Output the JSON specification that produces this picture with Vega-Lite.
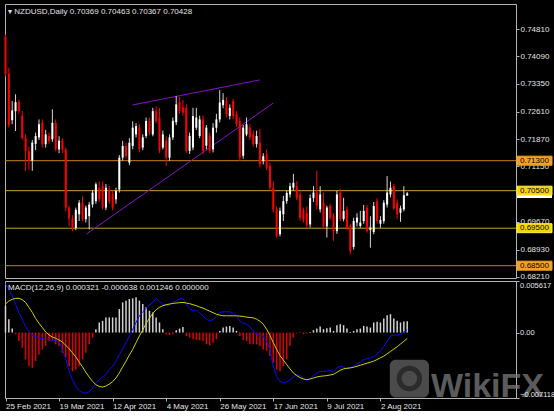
{
"$schema": "https://vega.github.io/schema/vega-lite/v6.json",
"background": "#000000",
"padding": {"left": 3, "top": 3, "right": 0, "bottom": 0},
"spacing": 3,
"bounds": "flush",
"config": {
  "view": {"stroke": "#b4b4b4", "strokeWidth": 1},
  "font": "Liberation Sans",
  "axis": {"labelFont": "Liberation Sans", "labelFontSize": 8, "labelColor": "#e4e4e4", "tickColor": "#b4b4b4", "tickSize": 3, "domain": false, "grid": false, "title": null, "labelPadding": 1, "labelOverlap": false}
},
"datasets": {
  "bars": [
{"i":0,"o":0.7460,"h":0.7466,"l":0.7355,"c":0.7362,"m":0.00531,"s":0.00311,"hist":0.00293},
{"i":1,"o":0.7362,"h":0.7378,"l":0.7218,"c":0.7225,"m":0.00468,"s":0.00344,"hist":0.00146},
{"i":2,"o":0.7238,"h":0.7289,"l":0.7227,"c":0.7264,"m":0.00403,"s":0.00362,"hist":0.00044},
{"i":3,"o":0.7262,"h":0.7307,"l":0.7209,"c":0.7286,"m":0.00310,"s":0.00373,"hist":-0.00018},
{"i":4,"o":0.7286,"h":0.7292,"l":0.7255,"c":0.7262,"m":0.00220,"s":0.00373,"hist":-0.00092},
{"i":5,"o":0.7249,"h":0.7262,"l":0.7185,"c":0.7191,"m":0.00143,"s":0.00359,"hist":-0.00165},
{"i":6,"o":0.7191,"h":0.7200,"l":0.7102,"c":0.7155,"m":0.00066,"s":0.00329,"hist":-0.00293},
{"i":7,"o":0.7155,"h":0.7168,"l":0.7105,"c":0.7130,"m":0.00015,"s":0.00275,"hist":-0.00366},
{"i":8,"o":0.7130,"h":0.7185,"l":0.7103,"c":0.7178,"m":-0.00029,"s":0.00220,"hist":-0.00384},
{"i":9,"o":0.7175,"h":0.7205,"l":0.7158,"c":0.7196,"m":-0.00044,"s":0.00154,"hist":-0.00311},
{"i":10,"o":0.7192,"h":0.7240,"l":0.7185,"c":0.7227,"m":-0.00055,"s":0.00102,"hist":-0.00238},
{"i":11,"o":0.7231,"h":0.7240,"l":0.7165,"c":0.7174,"m":-0.00066,"s":0.00055,"hist":-0.00183},
{"i":12,"o":0.7174,"h":0.7212,"l":0.7165,"c":0.7200,"m":-0.00073,"s":0.00007,"hist":-0.00146},
{"i":13,"o":0.7196,"h":0.7205,"l":0.7175,"c":0.7182,"m":-0.00077,"s":-0.00026,"hist":-0.00092},
{"i":14,"o":0.7187,"h":0.7267,"l":0.7180,"c":0.7231,"m":-0.00081,"s":-0.00048,"hist":-0.00092},
{"i":15,"o":0.7231,"h":0.7240,"l":0.7155,"c":0.7160,"m":-0.00088,"s":-0.00062,"hist":-0.00128},
{"i":16,"o":0.7160,"h":0.7195,"l":0.7150,"c":0.7183,"m":-0.00102,"s":-0.00081,"hist":-0.00146},
{"i":17,"o":0.7183,"h":0.7190,"l":0.7150,"c":0.7160,"m":-0.00183,"s":-0.00102,"hist":-0.00220},
{"i":18,"o":0.7160,"h":0.7165,"l":0.6995,"c":0.7005,"m":-0.00285,"s":-0.00139,"hist":-0.00275},
{"i":19,"o":0.7005,"h":0.7010,"l":0.6956,"c":0.6976,"m":-0.00421,"s":-0.00176,"hist":-0.00366},
{"i":20,"o":0.6976,"h":0.6985,"l":0.6942,"c":0.6951,"m":-0.00512,"s":-0.00220,"hist":-0.00421},
{"i":21,"o":0.6951,"h":0.7005,"l":0.6945,"c":0.6999,"m":-0.00586,"s":-0.00264,"hist":-0.00403},
{"i":22,"o":0.6987,"h":0.7025,"l":0.6969,"c":0.7018,"m":-0.00630,"s":-0.00322,"hist":-0.00366},
{"i":23,"o":0.7018,"h":0.7035,"l":0.6968,"c":0.6974,"m":-0.00651,"s":-0.00373,"hist":-0.00293},
{"i":24,"o":0.6974,"h":0.7010,"l":0.6965,"c":0.7005,"m":-0.00659,"s":-0.00432,"hist":-0.00220},
{"i":25,"o":0.6982,"h":0.7020,"l":0.6947,"c":0.7013,"m":-0.00644,"s":-0.00483,"hist":-0.00128},
{"i":26,"o":0.7013,"h":0.7052,"l":0.7005,"c":0.7045,"m":-0.00604,"s":-0.00531,"hist":-0.00055},
{"i":27,"o":0.7022,"h":0.7072,"l":0.7015,"c":0.7067,"m":-0.00549,"s":-0.00567,"hist":0.00037},
{"i":28,"o":0.7058,"h":0.7075,"l":0.7020,"c":0.7027,"m":-0.00512,"s":-0.00586,"hist":0.00110},
{"i":29,"o":0.7063,"h":0.7075,"l":0.7000,"c":0.7005,"m":-0.00483,"s":-0.00593,"hist":0.00128},
{"i":30,"o":0.7005,"h":0.7068,"l":0.6998,"c":0.7058,"m":-0.00458,"s":-0.00582,"hist":0.00165},
{"i":31,"o":0.7053,"h":0.7063,"l":0.7015,"c":0.7022,"m":-0.00403,"s":-0.00560,"hist":0.00165},
{"i":32,"o":0.7040,"h":0.7050,"l":0.6998,"c":0.7005,"m":-0.00366,"s":-0.00534,"hist":0.00165},
{"i":33,"o":0.7027,"h":0.7058,"l":0.7015,"c":0.7049,"m":-0.00311,"s":-0.00494,"hist":0.00165},
{"i":34,"o":0.7053,"h":0.7145,"l":0.7045,"c":0.7138,"m":-0.00238,"s":-0.00439,"hist":0.00256},
{"i":35,"o":0.7138,"h":0.7183,"l":0.7130,"c":0.7169,"m":-0.00176,"s":-0.00373,"hist":0.00329},
{"i":36,"o":0.7169,"h":0.7178,"l":0.7135,"c":0.7142,"m":-0.00110,"s":-0.00311,"hist":0.00348},
{"i":37,"o":0.7125,"h":0.7190,"l":0.7118,"c":0.7178,"m":-0.00037,"s":-0.00245,"hist":0.00366},
{"i":38,"o":0.7169,"h":0.7235,"l":0.7160,"c":0.7218,"m":0.00037,"s":-0.00183,"hist":0.00373},
{"i":39,"o":0.7200,"h":0.7230,"l":0.7192,"c":0.7222,"m":0.00110,"s":-0.00110,"hist":0.00384},
{"i":40,"o":0.7218,"h":0.7228,"l":0.7152,"c":0.7160,"m":0.00183,"s":-0.00037,"hist":0.00348},
{"i":41,"o":0.7165,"h":0.7200,"l":0.7158,"c":0.7192,"m":0.00227,"s":0.00029,"hist":0.00311},
{"i":42,"o":0.7196,"h":0.7245,"l":0.7190,"c":0.7236,"m":0.00264,"s":0.00099,"hist":0.00275},
{"i":43,"o":0.7236,"h":0.7245,"l":0.7198,"c":0.7205,"m":0.00300,"s":0.00157,"hist":0.00238},
{"i":44,"o":0.7200,"h":0.7271,"l":0.7195,"c":0.7262,"m":0.00329,"s":0.00209,"hist":0.00220},
{"i":45,"o":0.7262,"h":0.7275,"l":0.7230,"c":0.7236,"m":0.00373,"s":0.00249,"hist":0.00165},
{"i":46,"o":0.7245,"h":0.7271,"l":0.7150,"c":0.7158,"m":0.00337,"s":0.00275,"hist":0.00110},
{"i":47,"o":0.7165,"h":0.7210,"l":0.7160,"c":0.7200,"m":0.00307,"s":0.00293,"hist":0.00037},
{"i":48,"o":0.7183,"h":0.7195,"l":0.7116,"c":0.7138,"m":0.00293,"s":0.00304,"hist":-0.00018},
{"i":49,"o":0.7138,"h":0.7200,"l":0.7130,"c":0.7192,"m":0.00300,"s":0.00311,"hist":-0.00026},
{"i":50,"o":0.7192,"h":0.7245,"l":0.7185,"c":0.7236,"m":0.00329,"s":0.00318,"hist":-0.00018},
{"i":51,"o":0.7232,"h":0.7302,"l":0.7225,"c":0.7280,"m":0.00348,"s":0.00322,"hist":0.00026},
{"i":52,"o":0.7285,"h":0.7300,"l":0.7255,"c":0.7262,"m":0.00366,"s":0.00326,"hist":0.00044},
{"i":53,"o":0.7272,"h":0.7292,"l":0.7250,"c":0.7258,"m":0.00373,"s":0.00329,"hist":0.00062},
{"i":54,"o":0.7271,"h":0.7280,"l":0.7150,"c":0.7156,"m":0.00311,"s":0.00322,"hist":-0.00037},
{"i":55,"o":0.7156,"h":0.7205,"l":0.7148,"c":0.7196,"m":0.00264,"s":0.00315,"hist":-0.00055},
{"i":56,"o":0.7165,"h":0.7271,"l":0.7158,"c":0.7249,"m":0.00238,"s":0.00304,"hist":-0.00073},
{"i":57,"o":0.7218,"h":0.7271,"l":0.7212,"c":0.7245,"m":0.00249,"s":0.00293,"hist":-0.00081},
{"i":58,"o":0.7196,"h":0.7250,"l":0.7190,"c":0.7240,"m":0.00212,"s":0.00278,"hist":-0.00084},
{"i":59,"o":0.7240,"h":0.7250,"l":0.7148,"c":0.7156,"m":0.00183,"s":0.00267,"hist":-0.00092},
{"i":60,"o":0.7170,"h":0.7225,"l":0.7160,"c":0.7218,"m":0.00146,"s":0.00249,"hist":-0.00128},
{"i":61,"o":0.7196,"h":0.7205,"l":0.7150,"c":0.7156,"m":0.00128,"s":0.00234,"hist":-0.00139},
{"i":62,"o":0.7160,"h":0.7230,"l":0.7152,"c":0.7218,"m":0.00139,"s":0.00216,"hist":-0.00110},
{"i":63,"o":0.7218,"h":0.7255,"l":0.7205,"c":0.7240,"m":0.00183,"s":0.00201,"hist":-0.00073},
{"i":64,"o":0.7240,"h":0.7318,"l":0.7232,"c":0.7285,"m":0.00220,"s":0.00190,"hist":0.00018},
{"i":65,"o":0.7278,"h":0.7310,"l":0.7270,"c":0.7292,"m":0.00227,"s":0.00183,"hist":0.00055},
{"i":66,"o":0.7289,"h":0.7300,"l":0.7245,"c":0.7254,"m":0.00227,"s":0.00183,"hist":0.00066},
{"i":67,"o":0.7249,"h":0.7280,"l":0.7240,"c":0.7271,"m":0.00227,"s":0.00183,"hist":0.00073},
{"i":68,"o":0.7289,"h":0.7295,"l":0.7240,"c":0.7249,"m":0.00212,"s":0.00183,"hist":0.00055},
{"i":69,"o":0.7254,"h":0.7262,"l":0.7220,"c":0.7227,"m":0.00183,"s":0.00183,"hist":0.00018},
{"i":70,"o":0.7236,"h":0.7245,"l":0.7129,"c":0.7138,"m":0.00128,"s":0.00179,"hist":-0.00037},
{"i":71,"o":0.7143,"h":0.7225,"l":0.7135,"c":0.7218,"m":0.00102,"s":0.00176,"hist":-0.00081},
{"i":72,"o":0.7200,"h":0.7245,"l":0.7195,"c":0.7227,"m":0.00092,"s":0.00168,"hist":-0.00092},
{"i":73,"o":0.7218,"h":0.7228,"l":0.7185,"c":0.7192,"m":0.00066,"s":0.00165,"hist":-0.00128},
{"i":74,"o":0.7200,"h":0.7210,"l":0.7168,"c":0.7174,"m":0.00018,"s":0.00161,"hist":-0.00128},
{"i":75,"o":0.7174,"h":0.7210,"l":0.7165,"c":0.7196,"m":-0.00018,"s":0.00146,"hist":-0.00128},
{"i":76,"o":0.7178,"h":0.7214,"l":0.7112,"c":0.7120,"m":-0.00029,"s":0.00124,"hist":-0.00146},
{"i":77,"o":0.7129,"h":0.7150,"l":0.7120,"c":0.7142,"m":-0.00037,"s":0.00092,"hist":-0.00183},
{"i":78,"o":0.7147,"h":0.7160,"l":0.7105,"c":0.7111,"m":-0.00092,"s":0.00037,"hist":-0.00201},
{"i":79,"o":0.7116,"h":0.7125,"l":0.7050,"c":0.7058,"m":-0.00183,"s":-0.00029,"hist":-0.00256},
{"i":80,"o":0.7058,"h":0.7075,"l":0.6992,"c":0.7000,"m":-0.00366,"s":-0.00110,"hist":-0.00329},
{"i":81,"o":0.7000,"h":0.7008,"l":0.6925,"c":0.6929,"m":-0.00476,"s":-0.00183,"hist":-0.00403},
{"i":82,"o":0.6934,"h":0.7005,"l":0.6928,"c":0.6996,"m":-0.00531,"s":-0.00249,"hist":-0.00421},
{"i":83,"o":0.6987,"h":0.7036,"l":0.6969,"c":0.7022,"m":-0.00549,"s":-0.00300,"hist":-0.00366},
{"i":84,"o":0.7022,"h":0.7050,"l":0.7015,"c":0.7044,"m":-0.00538,"s":-0.00348,"hist":-0.00293},
{"i":85,"o":0.7040,"h":0.7071,"l":0.7032,"c":0.7062,"m":-0.00512,"s":-0.00395,"hist":-0.00146},
{"i":86,"o":0.7058,"h":0.7095,"l":0.7050,"c":0.7071,"m":-0.00483,"s":-0.00439,"hist":-0.00055},
{"i":87,"o":0.7062,"h":0.7075,"l":0.7025,"c":0.7031,"m":-0.00458,"s":-0.00468,"hist":-0.00007},
{"i":88,"o":0.7040,"h":0.7048,"l":0.6970,"c":0.6978,"m":-0.00468,"s":-0.00490,"hist":0.00004},
{"i":89,"o":0.6998,"h":0.7005,"l":0.6965,"c":0.6972,"m":-0.00494,"s":-0.00505,"hist":-0.00018},
{"i":90,"o":0.6990,"h":0.7008,"l":0.6950,"c":0.6958,"m":-0.00523,"s":-0.00512,"hist":-0.00011},
{"i":91,"o":0.6960,"h":0.7040,"l":0.6952,"c":0.7030,"m":-0.00494,"s":-0.00505,"hist":0.00007},
{"i":92,"o":0.7030,"h":0.7062,"l":0.7020,"c":0.7045,"m":-0.00468,"s":-0.00494,"hist":0.00026},
{"i":93,"o":0.7045,"h":0.7104,"l":0.7000,"c":0.7010,"m":-0.00439,"s":-0.00483,"hist":0.00044},
{"i":94,"o":0.7000,"h":0.7062,"l":0.6992,"c":0.7040,"m":-0.00421,"s":-0.00476,"hist":0.00066},
{"i":95,"o":0.7018,"h":0.7045,"l":0.6948,"c":0.6955,"m":-0.00421,"s":-0.00472,"hist":0.00037},
{"i":96,"o":0.6955,"h":0.7010,"l":0.6925,"c":0.7005,"m":-0.00421,"s":-0.00468,"hist":0.00048},
{"i":97,"o":0.7009,"h":0.7015,"l":0.6972,"c":0.6978,"m":-0.00410,"s":-0.00461,"hist":0.00055},
{"i":98,"o":0.6982,"h":0.6990,"l":0.6916,"c":0.6942,"m":-0.00432,"s":-0.00454,"hist":0.00018},
{"i":99,"o":0.6942,"h":0.7050,"l":0.6935,"c":0.7040,"m":-0.00384,"s":-0.00432,"hist":0.00081},
{"i":100,"o":0.7045,"h":0.7055,"l":0.6968,"c":0.6974,"m":-0.00366,"s":-0.00410,"hist":0.00092},
{"i":101,"o":0.6974,"h":0.7031,"l":0.6968,"c":0.6996,"m":-0.00377,"s":-0.00395,"hist":0.00081},
{"i":102,"o":0.7000,"h":0.7008,"l":0.6945,"c":0.6950,"m":-0.00392,"s":-0.00388,"hist":0.00044},
{"i":103,"o":0.6956,"h":0.6962,"l":0.6880,"c":0.6889,"m":-0.00384,"s":-0.00384,"hist":0.00007},
{"i":104,"o":0.6900,"h":0.6978,"l":0.6893,"c":0.6969,"m":-0.00366,"s":-0.00377,"hist":0.00018},
{"i":105,"o":0.6965,"h":0.6990,"l":0.6955,"c":0.6978,"m":-0.00340,"s":-0.00366,"hist":0.00037},
{"i":106,"o":0.6956,"h":0.6996,"l":0.6951,"c":0.6965,"m":-0.00322,"s":-0.00355,"hist":0.00044},
{"i":107,"o":0.6969,"h":0.7012,"l":0.6962,"c":0.6996,"m":-0.00293,"s":-0.00344,"hist":0.00073},
{"i":108,"o":0.7005,"h":0.7012,"l":0.6938,"c":0.6942,"m":-0.00285,"s":-0.00333,"hist":0.00066},
{"i":109,"o":0.6945,"h":0.6982,"l":0.6898,"c":0.6952,"m":-0.00275,"s":-0.00322,"hist":0.00055},
{"i":110,"o":0.6940,"h":0.7020,"l":0.6934,"c":0.7009,"m":-0.00264,"s":-0.00311,"hist":0.00110},
{"i":111,"o":0.7022,"h":0.7030,"l":0.6962,"c":0.6969,"m":-0.00227,"s":-0.00293,"hist":0.00117},
{"i":112,"o":0.6962,"h":0.6982,"l":0.6951,"c":0.6972,"m":-0.00201,"s":-0.00275,"hist":0.00110},
{"i":113,"o":0.6969,"h":0.7025,"l":0.6962,"c":0.7018,"m":-0.00154,"s":-0.00256,"hist":0.00154},
{"i":114,"o":0.7013,"h":0.7089,"l":0.7005,"c":0.7045,"m":-0.00092,"s":-0.00231,"hist":0.00190},
{"i":115,"o":0.7040,"h":0.7074,"l":0.7032,"c":0.7058,"m":-0.00037,"s":-0.00205,"hist":0.00201},
{"i":116,"o":0.7062,"h":0.7068,"l":0.6998,"c":0.7003,"m":-0.00026,"s":-0.00179,"hist":0.00154},
{"i":117,"o":0.7018,"h":0.7027,"l":0.6975,"c":0.6987,"m":-0.00029,"s":-0.00154,"hist":0.00128},
{"i":118,"o":0.6991,"h":0.7010,"l":0.6967,"c":0.7003,"m":-0.00018,"s":-0.00124,"hist":0.00110},
{"i":119,"o":0.7000,"h":0.7062,"l":0.6995,"c":0.7038,"m":0.00007,"s":-0.00095,"hist":0.00121},
{"i":120,"o":0.70369,"h":0.70463,"l":0.70367,"c":0.70428,"m":0.000321,"s":-0.000638,"hist":0.001246}
  ],
  "levels": [
    {"price": 0.7130, "kind": "resistance"},
    {"price": 0.7050, "kind": "pivot"},
    {"price": 0.6950, "kind": "pivot"},
    {"price": 0.6850, "kind": "support"}
  ],
  "last": [{"price": 0.70428}],
  "trend": [
    {"i1": 37.9, "p1": 0.72784, "i2": 75.9, "p2": 0.73451},
    {"i1": 24.2, "p1": 0.69345, "i2": 80.0, "p2": 0.72837}
  ]
},
"vconcat": [
  {
    "width": 511,
    "height": 274,
    "layer": [
      {
        "data": {"name": "levels"},
        "mark": {"type": "rule", "strokeWidth": 1},
        "encoding": {
          "y": {"field": "price", "type": "quantitative",
                "scale": {"domain": [0.68172, 0.75477], "nice": false, "zero": false},
                "axis": {"orient": "right", "values": [0.7481, 0.7409, 0.7335, 0.7261, 0.7187, 0.7115, 0.7041, 0.6967, 0.6893, 0.6821], "format": ".5f"}},
          "color": {"condition": {"test": "datum.kind == 'pivot'", "value": "#c9a227"}, "value": "#c7801a"}
        }
      },
      {
        "data": {"name": "trend"},
        "mark": {"type": "rule", "strokeWidth": 1, "color": "#8a12c8"},
        "encoding": {
          "x": {"field": "i1", "type": "quantitative", "scale": {"domain": [-0.15, 152.5], "nice": false, "zero": false}, "axis": null},
          "x2": {"field": "i2"},
          "y": {"field": "p1", "type": "quantitative", "axis": {"orient": "right", "values": [0.7481, 0.7409, 0.7335, 0.7261, 0.7187, 0.7115, 0.7041, 0.6967, 0.6893, 0.6821], "format": ".5f"}},
          "y2": {"field": "p2"}
        }
      },
      {
        "data": {"name": "bars"},
        "mark": {"type": "rule", "strokeWidth": 1},
        "encoding": {
          "x": {"field": "i", "type": "quantitative", "axis": null},
          "y": {"field": "l", "type": "quantitative", "axis": {"orient": "right", "values": [0.7481, 0.7409, 0.7335, 0.7261, 0.7187, 0.7115, 0.7041, 0.6967, 0.6893, 0.6821], "format": ".5f"}},
          "y2": {"field": "h"},
          "color": {"condition": {"test": "datum.c >= datum.o", "value": "#d6d6d6"}, "value": "#ff0000"}
        }
      },
      {
        "data": {"name": "bars"},
        "mark": {"type": "rule", "strokeWidth": 2, "strokeCap": "butt"},
        "encoding": {
          "x": {"field": "i", "type": "quantitative", "axis": null},
          "y": {"field": "o", "type": "quantitative", "axis": {"orient": "right", "values": [0.7481, 0.7409, 0.7335, 0.7261, 0.7187, 0.7115, 0.7041, 0.6967, 0.6893, 0.6821], "format": ".5f"}},
          "y2": {"field": "c"},
          "color": {"condition": {"test": "datum.c >= datum.o", "value": "#ffffff"}, "value": "#ff0000"}
        }
      },
      {
        "data": {"name": "last"},
        "mark": {"type": "rect", "fill": "#ffffff", "xOffset": 1, "x2Offset": 36, "yOffset": -4.5, "y2Offset": 4.5},
        "encoding": {
          "x": {"datum": 152.5, "type": "quantitative", "axis": null},
          "x2": {"datum": 152.5},
          "y": {"field": "price", "type": "quantitative", "axis": {"orient": "right", "values": [0.7481, 0.7409, 0.7335, 0.7261, 0.7187, 0.7115, 0.7041, 0.6967, 0.6893, 0.6821], "format": ".5f"}},
          "y2": {"field": "price"}
        }
      },
      {
        "data": {"name": "levels"},
        "mark": {"type": "rect", "xOffset": 1, "x2Offset": 36, "yOffset": -4.5, "y2Offset": 4.5, "strokeWidth": 1},
        "encoding": {
          "x": {"datum": 152.5, "type": "quantitative", "axis": null},
          "x2": {"datum": 152.5},
          "y": {"field": "price", "type": "quantitative", "axis": {"orient": "right", "values": [0.7481, 0.7409, 0.7335, 0.7261, 0.7187, 0.7115, 0.7041, 0.6967, 0.6893, 0.6821], "format": ".5f"}},
          "y2": {"field": "price"},
          "fill": {"condition": {"test": "datum.kind == 'pivot'", "value": "#f5d300"}, "value": "#f2a024"},
          "stroke": {"condition": {"test": "datum.kind == 'pivot'", "value": "#fff04a"}, "value": "#f2a024"}
        }
      },
      {
        "data": {"name": "levels"},
        "mark": {"type": "text", "align": "left", "baseline": "middle", "dx": 4, "fontSize": 8, "font": "Liberation Sans", "color": "#000000"},
        "encoding": {
          "x": {"datum": 152.5, "type": "quantitative", "axis": null},
          "y": {"field": "price", "type": "quantitative", "axis": {"orient": "right", "values": [0.7481, 0.7409, 0.7335, 0.7261, 0.7187, 0.7115, 0.7041, 0.6967, 0.6893, 0.6821], "format": ".5f"}},
          "text": {"field": "price", "type": "quantitative", "format": ".5f"}
        }
      },
      {
        "data": {"values": [{"label": "▾  NZDUSD,Daily  0.70369 0.70463 0.70367 0.70428"}]},
        "mark": {"type": "text", "align": "left", "baseline": "top", "dx": 3, "dy": 4, "fontSize": 8, "font": "Liberation Sans", "color": "#e4e4e4"},
        "encoding": {
          "x": {"datum": -0.15, "type": "quantitative", "axis": null},
          "y": {"datum": 0.75477, "type": "quantitative", "axis": {"orient": "right", "values": [0.7481, 0.7409, 0.7335, 0.7261, 0.7187, 0.7115, 0.7041, 0.6967, 0.6893, 0.6821], "format": ".5f"}},
          "text": {"field": "label"}
        }
      }
    ]
  },
  {
    "width": 511,
    "height": 117,
    "layer": [
      {
        "data": {"name": "bars"},
        "mark": {"type": "rule", "strokeWidth": 1.5, "strokeCap": "butt"},
        "encoding": {
          "x": {"field": "i", "type": "quantitative",
                "scale": {"domain": [-0.15, 152.5], "nice": false, "zero": false},
                "axis": {"orient": "bottom", "values": [0, 16, 32, 48, 64, 80, 96, 112], "labelExpr": "['25 Feb 2021','19 Mar 2021','12 Apr 2021','4 May 2021','26 May 2021','17 Jun 2021','9 Jul 2021','2 Aug 2021'][round(datum.value / 16)]", "labelAlign": "left", "labelBaseline": "top", "labelPadding": 1, "labelFlush": false}},
          "y": {"field": "hist", "type": "quantitative",
                "scale": {"domain": [-0.007118, 0.005617], "nice": false, "zero": false},
                "axis": {"orient": "right", "values": [0.005617, 0, -0.007118], "labelExpr": "datum.value == 0 ? '0.00' : format(datum.value, '.6f')", "labelFlush": true, "labelFontSize": 7.5, "labelPadding": 0.5, "zindex": 2}},
          "y2": {"datum": 0},
          "color": {"condition": {"test": "datum.hist >= 0", "value": "#d2d2d2"}, "value": "#e00000"}
        }
      },
      {
        "data": {"name": "bars"},
        "mark": {"type": "line", "color": "#0a0aff", "strokeWidth": 1},
        "encoding": {
          "x": {"field": "i", "type": "quantitative", "axis": {"orient": "bottom", "values": [0, 16, 32, 48, 64, 80, 96, 112], "labelExpr": "['25 Feb 2021','19 Mar 2021','12 Apr 2021','4 May 2021','26 May 2021','17 Jun 2021','9 Jul 2021','2 Aug 2021'][round(datum.value / 16)]", "labelAlign": "left", "labelBaseline": "top", "labelPadding": 1, "labelFlush": false}},
          "y": {"field": "m", "type": "quantitative", "axis": {"orient": "right", "values": [0.005617, 0, -0.007118], "labelExpr": "datum.value == 0 ? '0.00' : format(datum.value, '.6f')", "labelFlush": true, "labelFontSize": 7.5, "labelPadding": 0.5, "zindex": 2}}
        }
      },
      {
        "data": {"name": "bars"},
        "mark": {"type": "line", "color": "#d2d200", "strokeWidth": 1},
        "encoding": {
          "x": {"field": "i", "type": "quantitative", "axis": {"orient": "bottom", "values": [0, 16, 32, 48, 64, 80, 96, 112], "labelExpr": "['25 Feb 2021','19 Mar 2021','12 Apr 2021','4 May 2021','26 May 2021','17 Jun 2021','9 Jul 2021','2 Aug 2021'][round(datum.value / 16)]", "labelAlign": "left", "labelBaseline": "top", "labelPadding": 1, "labelFlush": false}},
          "y": {"field": "s", "type": "quantitative", "axis": {"orient": "right", "values": [0.005617, 0, -0.007118], "labelExpr": "datum.value == 0 ? '0.00' : format(datum.value, '.6f')", "labelFlush": true, "labelFontSize": 7.5, "labelPadding": 0.5, "zindex": 2}}
        }
      },
      {
        "data": {"values": [{"label": "MACD(12,26,9) 0.000321 -0.000638 0.001246 0.000000"}]},
        "mark": {"type": "text", "align": "left", "baseline": "top", "dx": 3, "dy": 3, "fontSize": 8, "font": "Liberation Sans", "color": "#e4e4e4"},
        "encoding": {
          "x": {"datum": -0.15, "type": "quantitative", "axis": {"orient": "bottom", "values": [0, 16, 32, 48, 64, 80, 96, 112], "labelExpr": "['25 Feb 2021','19 Mar 2021','12 Apr 2021','4 May 2021','26 May 2021','17 Jun 2021','9 Jul 2021','2 Aug 2021'][round(datum.value / 16)]", "labelAlign": "left", "labelBaseline": "top", "labelPadding": 1, "labelFlush": false}},
          "y": {"datum": 0.005617, "type": "quantitative", "axis": {"orient": "right", "values": [0.005617, 0, -0.007118], "labelExpr": "datum.value == 0 ? '0.00' : format(datum.value, '.6f')", "labelFlush": true, "labelFontSize": 7.5, "labelPadding": 0.5, "zindex": 2}},
          "text": {"field": "label"}
        }
      },
      {
        "data": {"values": [{"x1": 114.8, "x2": 126.5, "y1": -0.00295, "y2": -0.00705}]},
        "mark": {"type": "rect", "fill": "#5e5e5e", "opacity": 0.8, "cornerRadius": 6},
        "encoding": {
          "x": {"field": "x1", "type": "quantitative", "axis": {"orient": "bottom", "values": [0, 16, 32, 48, 64, 80, 96, 112], "labelExpr": "['25 Feb 2021','19 Mar 2021','12 Apr 2021','4 May 2021','26 May 2021','17 Jun 2021','9 Jul 2021','2 Aug 2021'][round(datum.value / 16)]", "labelAlign": "left", "labelBaseline": "top", "labelPadding": 1, "labelFlush": false}},
          "x2": {"field": "x2"},
          "y": {"field": "y1", "type": "quantitative", "axis": {"orient": "right", "values": [0.005617, 0, -0.007118], "labelExpr": "datum.value == 0 ? '0.00' : format(datum.value, '.6f')", "labelFlush": true, "labelFontSize": 7.5, "labelPadding": 0.5, "zindex": 2}},
          "y2": {"field": "y2"}
        }
      },
      {
        "data": {"values": [{"cx": 120.65, "cy": -0.00500}]},
        "mark": {"type": "point", "shape": "circle", "filled": false, "size": 420, "strokeWidth": 5, "color": "#262626", "opacity": 0.85},
        "encoding": {
          "x": {"field": "cx", "type": "quantitative", "axis": {"orient": "bottom", "values": [0, 16, 32, 48, 64, 80, 96, 112], "labelExpr": "['25 Feb 2021','19 Mar 2021','12 Apr 2021','4 May 2021','26 May 2021','17 Jun 2021','9 Jul 2021','2 Aug 2021'][round(datum.value / 16)]", "labelAlign": "left", "labelBaseline": "top", "labelPadding": 1, "labelFlush": false}},
          "y": {"field": "cy", "type": "quantitative", "axis": {"orient": "right", "values": [0.005617, 0, -0.007118], "labelExpr": "datum.value == 0 ? '0.00' : format(datum.value, '.6f')", "labelFlush": true, "labelFontSize": 7.5, "labelPadding": 0.5, "zindex": 2}}
        }
      },
      {
        "data": {"values": [{"brand": "WikiFX"}]},
        "mark": {"type": "text", "align": "right", "baseline": "alphabetic", "dx": 28, "dy": -1, "fontSize": 34, "fontWeight": "bold", "font": "Liberation Sans", "color": "#7a7a7a", "opacity": 0.75},
        "encoding": {
          "x": {"datum": 152.5, "type": "quantitative", "axis": {"orient": "bottom", "values": [0, 16, 32, 48, 64, 80, 96, 112], "labelExpr": "['25 Feb 2021','19 Mar 2021','12 Apr 2021','4 May 2021','26 May 2021','17 Jun 2021','9 Jul 2021','2 Aug 2021'][round(datum.value / 16)]", "labelAlign": "left", "labelBaseline": "top", "labelPadding": 1, "labelFlush": false}},
          "y": {"datum": -0.007118, "type": "quantitative", "axis": {"orient": "right", "values": [0.005617, 0, -0.007118], "labelExpr": "datum.value == 0 ? '0.00' : format(datum.value, '.6f')", "labelFlush": true, "labelFontSize": 7.5, "labelPadding": 0.5, "zindex": 2}},
          "text": {"field": "brand"}
        }
      }
    ]
  }
]
}
